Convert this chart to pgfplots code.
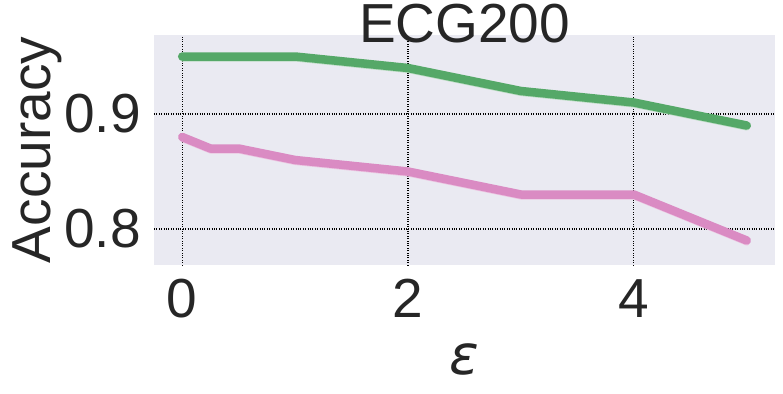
\documentclass[border=0pt]{standalone}
\usepackage{fontspec}
\setmainfont{Liberation Sans}
\newfontfamily\dejavu{DejaVu Sans}
\usepackage{pgfplots}
\pgfplotsset{compat=1.18}
\definecolor{sbgreen}{HTML}{55A868}
\definecolor{sbpink}{HTML}{DA8BC3}
\definecolor{sbbg}{HTML}{EAEAF2}
\definecolor{txt}{HTML}{262626}
\begin{document}
\begin{tikzpicture}
\begin{axis}[
  at={(0pt,0pt)}, anchor=south west,
  scale only axis,
  width=621pt, height=230pt,
  xmin=-0.25, xmax=5.25,
  ymin=0.7687, ymax=0.9687,
  axis background/.style={fill=sbbg},
  axis line style={draw=none},
  major tick length=0pt,
  xtick={0,2,4}, ytick={0.8,0.9},
  yticklabels={0.8,0.9},
  grid=major,
  major grid style={black, dotted, line width=1.2pt},
  ticklabel style={font=\fontsize{55}{60}\selectfont, text=txt},
  /pgf/number format/assume math mode=true,
  xticklabel style={anchor=base, inner sep=0pt, yshift=-52pt},
  yticklabel style={anchor=east, inner sep=0pt, xshift=-13pt},
  title={ECG200},
  title style={at={(axis description cs:0.5,1)}, anchor=base, yshift=-14pt, font=\fontsize{55}{60}\selectfont, text=txt, inner sep=0pt},
  xlabel={{\dejavu\itshape ε}},
  xlabel style={at={(axis description cs:0.5,0)}, anchor=base, yshift=-109pt, font=\fontsize{55}{60}\selectfont, text=txt, inner sep=0pt},
  ylabel={Accuracy},
  ylabel style={at={(axis description cs:-0.16747,0.5)}, anchor=base, rotate=0, font=\fontsize{55}{60}\selectfont, text=txt, inner sep=0pt},
  clip=false,
]
\addplot[sbgreen!40, line width=6pt, line join=round, line cap=round, yshift=-2pt] coordinates {(0,0.95) (0.25,0.95) (0.5,0.95) (1,0.95) (2,0.94) (3,0.92) (4,0.91) (5,0.89)};
\addplot[sbpink!50, line width=6pt, line join=round, line cap=round, yshift=-2pt] coordinates {(0,0.88) (0.25,0.87) (0.5,0.87) (1,0.86) (2,0.85) (3,0.83) (4,0.83) (5,0.79)};
\addplot[sbgreen, line width=8.5pt, line join=round, line cap=round] coordinates {(0,0.95) (0.25,0.95) (0.5,0.95) (1,0.95) (2,0.94) (3,0.92) (4,0.91) (5,0.89)};
\addplot[sbpink, line width=8.5pt, line join=round, line cap=round] coordinates {(0,0.88) (0.25,0.87) (0.5,0.87) (1,0.86) (2,0.85) (3,0.83) (4,0.83) (5,0.79)};
\end{axis}
\pgfresetboundingbox
\useasboundingbox (-154pt,-128pt) rectangle (629pt,265pt);
\end{tikzpicture}
\end{document}
